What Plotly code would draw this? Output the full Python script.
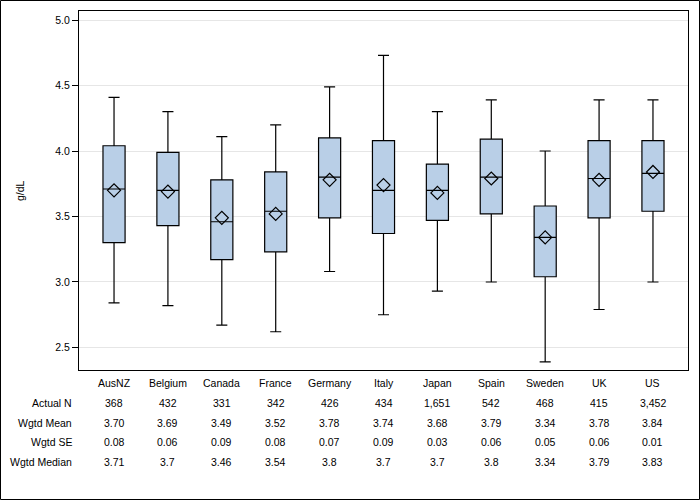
import plotly.graph_objects as go

countries = ["AusNZ", "Belgium", "Canada", "France", "Germany", "Italy", "Japan", "Spain", "Sweden", "UK", "US"]
whisker_low = [2.84, 2.82, 2.67, 2.62, 3.08, 2.75, 2.93, 3.00, 2.39, 2.79, 3.00]
q1 = [3.30, 3.43, 3.17, 3.23, 3.49, 3.37, 3.47, 3.52, 3.04, 3.49, 3.54]
median = [3.71, 3.70, 3.46, 3.54, 3.80, 3.70, 3.70, 3.80, 3.34, 3.79, 3.83]
q3 = [4.04, 3.99, 3.78, 3.84, 4.10, 4.08, 3.90, 4.09, 3.58, 4.08, 4.08]
whisker_high = [4.41, 4.30, 4.11, 4.20, 4.49, 4.73, 4.30, 4.39, 4.00, 4.39, 4.39]

actual_n = ["368", "432", "331", "342", "426", "434", "1,651", "542", "468", "415", "3,452"]
wgtd_mean = [3.70, 3.69, 3.49, 3.52, 3.78, 3.74, 3.68, 3.79, 3.34, 3.78, 3.84]
wgtd_se = ["0.08", "0.06", "0.09", "0.08", "0.07", "0.09", "0.03", "0.06", "0.05", "0.06", "0.01"]
wgtd_median = ["3.71", "3.7", "3.46", "3.54", "3.8", "3.7", "3.7", "3.8", "3.34", "3.79", "3.83"]

FONT = "Liberation Sans, Arial, sans-serif"
FS = 10.5
xs = list(range(len(countries)))

fig = go.Figure()
fig.add_trace(go.Box(
    x=xs, q1=q1, median=median, q3=q3,
    lowerfence=whisker_low, upperfence=whisker_high,
    fillcolor="#b9cfe7", line=dict(color="black", width=1.2),
    width=0.41, whiskerwidth=0.5, boxpoints=False, showlegend=False,
    hoverinfo="skip",
))
fig.add_trace(go.Scatter(
    x=xs, y=wgtd_mean, mode="markers",
    marker=dict(symbol="diamond-open", size=10, color="black", line=dict(width=1.2)),
    showlegend=False, hoverinfo="skip",
))

W, H = 700, 500
L, R, T, B = 79, 12, 11, 130
pw, ph = W - L - R, H - T - B

def py(p):
    return (H - B - p) / ph

def px(p):
    return (p - L) / pw

annotations = []
rows = [
    (383, None, countries),
    (403, "Actual N", actual_n),
    (423, "Wgtd Mean", [f"{v:.2f}" for v in wgtd_mean]),
    (442, "Wgtd SE", wgtd_se),
    (461.5, "Wgtd Median", wgtd_median),
]
for ypix, label, vals in rows:
    if label:
        annotations.append(dict(x=px(74), y=py(ypix), xref="paper", yref="paper",
                                text=label, showarrow=False, xanchor="right", yanchor="middle",
                                font=dict(family=FONT, size=FS, color="black")))
    for i, v in enumerate(vals):
        annotations.append(dict(x=i, y=py(ypix), xref="x", yref="paper",
                                text=v, showarrow=False, xanchor="center", yanchor="middle",
                                font=dict(family=FONT, size=FS, color="black")))

annotations.append(dict(x=px(20), y=py(190), xref="paper", yref="paper", text="g/dL",
                        showarrow=False, textangle=-90, xanchor="center", yanchor="middle",
                        font=dict(family=FONT, size=FS, color="black")))

fig.update_layout(
    width=W, height=H,
    margin=dict(l=L, r=R, t=T, b=B),
    plot_bgcolor="white", paper_bgcolor="white",
    font=dict(family=FONT, size=FS, color="black"),
    annotations=annotations,
    shapes=[dict(type="rect", xref="paper", yref="paper",
                 x0=px(0.5), x1=px(699.5), y0=py(499.5), y1=py(0.5),
                 line=dict(color="black", width=1), layer="above")],
)
fig.update_xaxes(range=[-0.65, 10.65], showticklabels=False, ticks="",
                 showgrid=False, zeroline=False, showline=True, linecolor="black",
                 linewidth=1, mirror=True)
fig.update_yaxes(range=[2.328, 5.069], tickvals=[2.5, 3.0, 3.5, 4.0, 4.5, 5.0],
                 tickformat=".1f", ticks="outside", ticklen=6, tickcolor="black",
                 showgrid=True, gridcolor="#e6e6e6", gridwidth=1, zeroline=False,
                 showline=True, linecolor="black", linewidth=1, mirror=True,
                 tickfont=dict(family=FONT, size=FS, color="black"))

fig.write_html("out.html", config={"displayModeBar": False},
               post_script="document.body.style.margin='0px';document.body.style.overflow='hidden';")
